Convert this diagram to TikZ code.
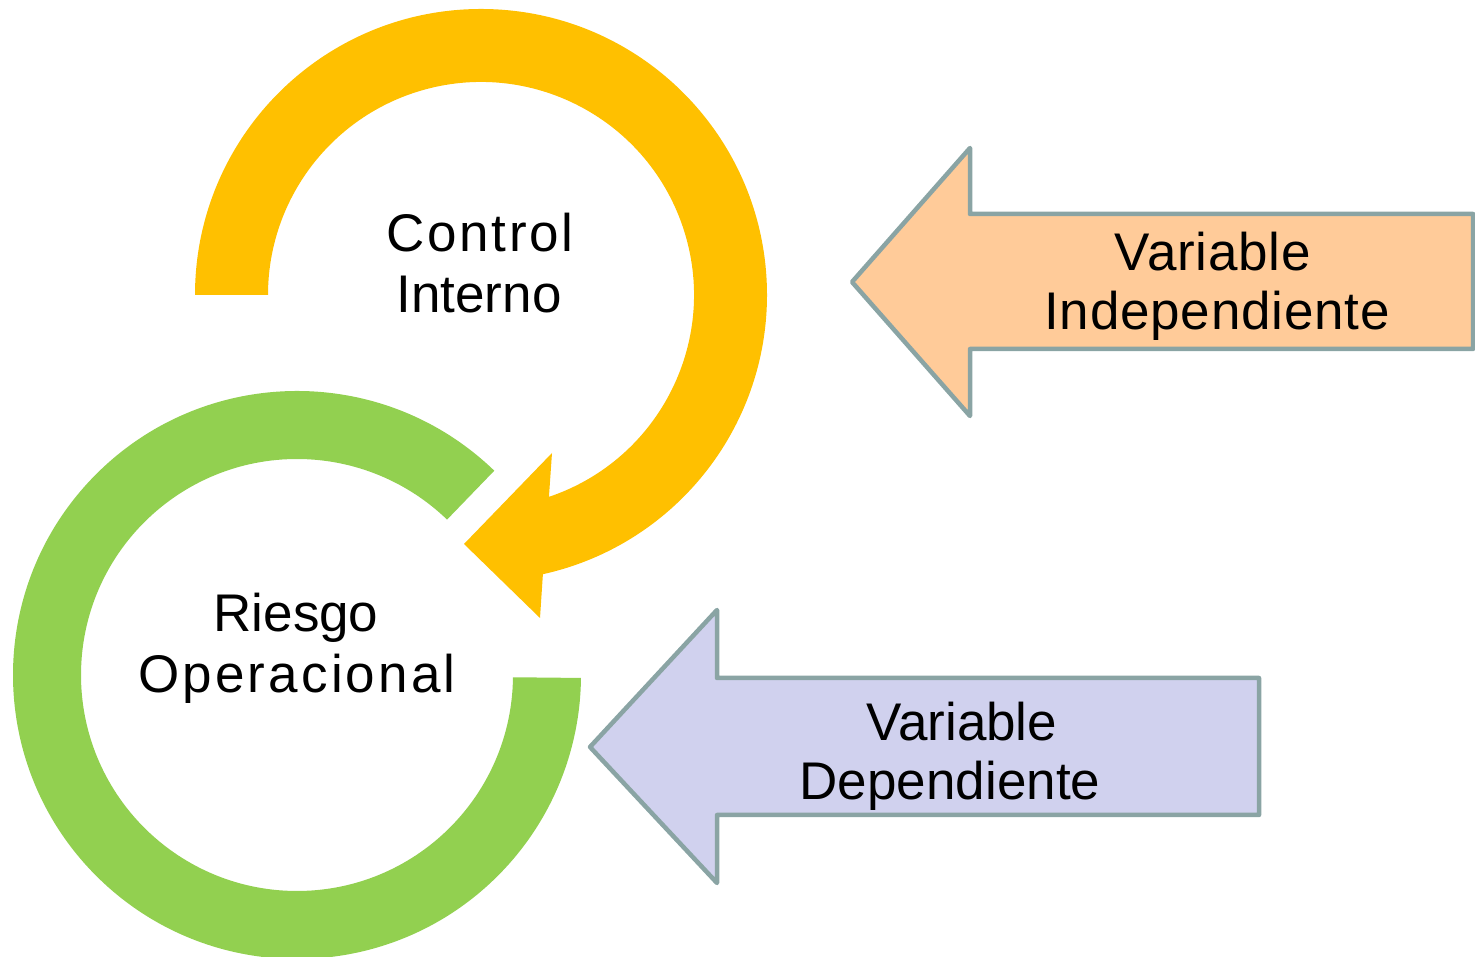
\documentclass[tikz,border=0pt]{standalone}
\usepackage{fontspec}
\setmainfont{Liberation Sans}
\usetikzlibrary{calc}
\definecolor{ciyellow}{HTML}{FFC000}
\definecolor{rogreen}{HTML}{92D050}
\definecolor{indfill}{HTML}{FFCB99}
\definecolor{depfill}{HTML}{D0D1EE}
\definecolor{arrstroke}{RGB}{138,164,164}
\tikzset{
  blockarrow/.style={draw=arrstroke, line width=4.5pt, line join=round},
  lbl/.style={anchor=base, inner sep=0pt, font=\fontsize{53}{61}\selectfont, text=black}
}
\begin{document}
\begin{tikzpicture}[x=1pt,y=1pt]
\useasboundingbox (0,0) rectangle (1475,957);
% centres
\coordinate (c1) at (481,662);
\coordinate (c2) at (297,282);
% yellow circular arrow
\fill[ciyellow] ($(c1)+(180:286)$) arc[start angle=180, end angle=-77.5, radius=286]
  -- (540,339) -- (464,413) -- (552,504)
  -- ($(c1)+(-71.4:213)$) arc[start angle=-71.4, end angle=180, radius=213] -- cycle;
% green ring
\fill[rogreen] ($(c2)+(46:284)$) arc[start angle=46, end angle=359.4, radius=284]
  -- ($(c2)+(359.4:216)$) arc[start angle=359.4, end angle=46, radius=216] -- cycle;
% block arrows
\draw[blockarrow, fill=indfill] (852,675) -- (970,809) -- (970,743) -- (1473,743)
  -- (1473,608) -- (970,608) -- (970,541) -- cycle;
\draw[blockarrow, fill=depfill] (590,210) -- (717,347) -- (717,279) -- (1259,279)
  -- (1259,142) -- (717,142) -- (717,74) -- cycle;
% labels
\node[lbl] (ci1) at (480,705) {\addfontfeature{LetterSpace=5}Control};
\node[lbl] (ci2) at (479,644) {Interno};
\node[lbl] (ro1) at (296,325) {Riesgo};
\node[lbl] (ro2) at (297,264) {\addfontfeature{LetterSpace=6}Operacional};
\node[lbl] (vi1) at (1213,686) {\addfontfeature{LetterSpace=1.5}Variable};
\node[lbl] (vi2) at (1217,627) {\addfontfeature{LetterSpace=1.5}Independiente};
\node[lbl] (vd1) at (962,216) {Variable};
\node[lbl] (vd2) at (950,157) {Dependiente};
\end{tikzpicture}
\end{document}
